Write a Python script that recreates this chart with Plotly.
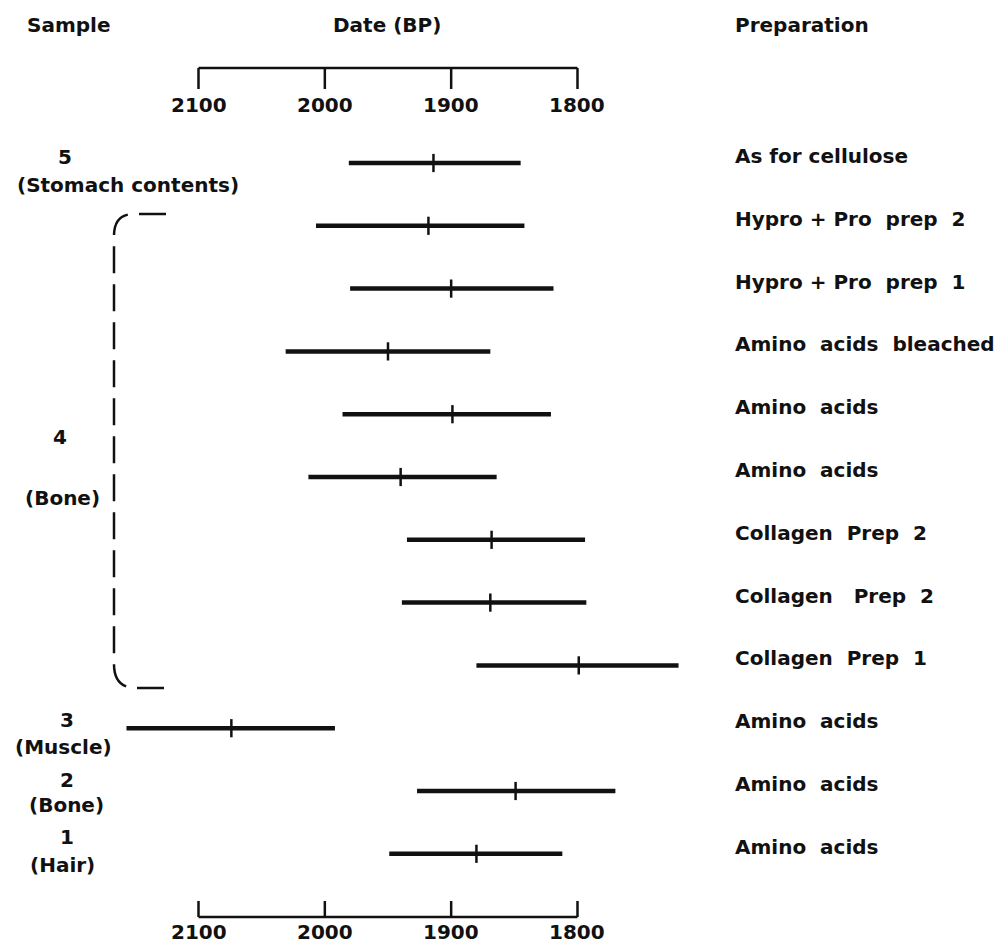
import plotly.graph_objects as go

# ---------------- data ----------------
NB = "\u00a0"
preparations = [
    "As for cellulose",
    "Hypro + Pro" + NB + " prep" + NB + " 2",
    "Hypro + Pro" + NB + " prep" + NB + " 1",
    "Amino" + NB + " acids" + NB + " bleached",
    "Amino" + NB + " acids",
    "Amino" + NB + " acids",
    "Collagen" + NB + " Prep" + NB + " 2",
    "Collagen" + NB + NB + " Prep" + NB + " 2",
    "Collagen" + NB + " Prep" + NB + " 1",
    "Amino" + NB + " acids",
    "Amino" + NB + " acids",
    "Amino" + NB + " acids",
]
date_mid = [1914, 1918, 1900, 1950, 1899, 1940, 1868, 1869, 1799, 2074, 1849, 1880]
date_older = [1981, 2007, 1980, 2031, 1986, 2013, 1935, 1939, 1880, 2157, 1927, 1949]
date_younger = [1845, 1842, 1819, 1869, 1821, 1864, 1794, 1793, 1720, 1992, 1770, 1812]

axis_ticks = [2100, 2000, 1900, 1800]
tick_labels = ["2100", "2000", "1900", "1800"]

sample_numbers = ["5", "4", "3", "2", "1"]
sample_materials = ["(Stomach contents)", "(Bone)", "(Muscle)", "(Bone)", "(Hair)"]

header_sample = "Sample"
header_date = "Date (BP)"
header_prep = "Preparation"

# ---------------- layout geometry (page pixels) ----------------
W, H = 1001, 945
X2100_PX = 198.5
PX_PER_YEAR = 1.2633
ROW0_PX = 163.0
ROW_STEP = 62.8

x_range = [2100 + X2100_PX / PX_PER_YEAR, 2100 - (W - X2100_PX) / PX_PER_YEAR]
y_range = [(H - ROW0_PX) / ROW_STEP, -ROW0_PX / ROW_STEP]


def fx(px):
    return px / W


def fy(py):
    return 1 - py / H


FONT = "DejaVu Sans"
FSIZE = 20
INK = "#111111"
TXT = dict(family=FONT, size=FSIZE, color=INK, weight="bold")

rows = list(range(len(preparations)))

fig = go.Figure()

# date ranges
lx, ly = [], []
for r, a, b in zip(rows, date_older, date_younger):
    lx += [a, b, None]
    ly += [r, r, None]
fig.add_trace(go.Scatter(x=lx, y=ly, mode="lines",
                         line=dict(color=INK, width=4.5),
                         hoverinfo="skip", showlegend=False))
# central dates
fig.add_trace(go.Scatter(x=date_mid, y=rows, mode="markers",
                         marker=dict(symbol="line-ns", size=13,
                                     line=dict(color=INK, width=2.5)),
                         showlegend=False))

shapes = []
annotations = []

# top and bottom scales
AX_W = 2.5
for line_py, tick_end_py, label_py in [(68, 89, 105), (917, 901, 932)]:
    shapes.append(dict(type="line", xref="x", yref="paper",
                       x0=axis_ticks[0], x1=axis_ticks[-1],
                       y0=fy(line_py), y1=fy(line_py),
                       line=dict(color=INK, width=AX_W)))
    for t, lab in zip(axis_ticks, tick_labels):
        shapes.append(dict(type="line", xref="x", yref="paper",
                           x0=t, x1=t, y0=fy(line_py), y1=fy(tick_end_py),
                           line=dict(color=INK, width=AX_W)))
        annotations.append(dict(text=lab, xref="x", yref="paper",
                                x=t, y=fy(label_py), xanchor="center",
                                yanchor="middle", showarrow=False, font=TXT))

# headers
for txt, px, py, anc in [(header_sample, 25, 25, "left"),
                         (header_date, 387, 25, "center"),
                         (header_prep, 733, 25, "left")]:
    annotations.append(dict(text=txt, xref="paper", yref="paper",
                            x=fx(px), y=fy(py), xanchor=anc, yanchor="middle",
                            showarrow=False, font=TXT))

# preparation labels
for r, txt in zip(rows, preparations):
    annotations.append(dict(text=txt, xref="paper", yref="y",
                            x=fx(733), y=r, yshift=7,
                            xanchor="left", yanchor="middle", showarrow=False,
                            font=TXT))

# sample labels (number, material)
num_pos = [(65, 157), (60, 437), (67, 720), (67, 780), (67, 837)]
mat_pos = [(128, 185), (62, 498), (63, 747), (66, 805), (62, 865)]
for txt, (px, py) in zip(sample_numbers, num_pos):
    annotations.append(dict(text=txt, xref="paper", yref="paper",
                            x=fx(px), y=fy(py), xanchor="center",
                            yanchor="middle", showarrow=False, font=TXT))
for txt, (px, py) in zip(sample_materials, mat_pos):
    annotations.append(dict(text=txt, xref="paper", yref="paper",
                            x=fx(px), y=fy(py), xanchor="center",
                            yanchor="middle", showarrow=False, font=TXT))


# dashed bracket grouping sample 4
def P(px, py):
    return f"{fx(px):.5f},{fy(py):.5f}"


bracket = (f"M {P(166, 214)} L {P(134, 214)} Q {P(114, 214)} {P(114, 236)} "
           f"L {P(114, 664)} Q {P(114, 688)} {P(136, 688)} L {P(166, 688)}")
shapes.append(dict(type="path", xref="paper", yref="paper", path=bracket,
                   line=dict(color=INK, width=2.5, dash="27px,11px")))

fig.update_layout(
    width=W, height=H,
    margin=dict(l=0, r=0, t=0, b=0),
    paper_bgcolor="white", plot_bgcolor="white",
    xaxis=dict(range=x_range, visible=False, fixedrange=True),
    yaxis=dict(range=y_range, visible=False, fixedrange=True),
    shapes=shapes, annotations=annotations,
    showlegend=False,
)

fig.write_html("out.html", config={"displayModeBar": False},
               post_script="document.body.style.margin='0px';")
